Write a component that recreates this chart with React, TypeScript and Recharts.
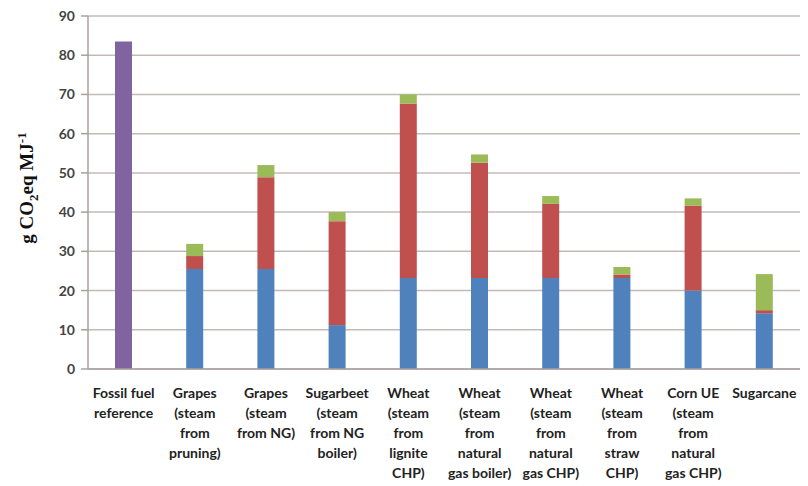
import React from 'react';
import { BarChart, Bar, XAxis, YAxis, CartesianGrid } from 'recharts';

const categories = [
  'Fossil fuel\nreference',
  'Grapes\n(steam\nfrom\npruning)',
  'Grapes\n(steam\nfrom NG)',
  'Sugarbeet\n(steam\nfrom NG\nboiler)',
  'Wheat\n(steam\nfrom\nlignite\nCHP)',
  'Wheat\n(steam\nfrom\nnatural\ngas boiler)',
  'Wheat\n(steam\nfrom\nnatural\ngas CHP)',
  'Wheat\n(steam\nfrom\nstraw\nCHP)',
  'Corn UE\n(steam\nfrom\nnatural\ngas CHP)',
  'Sugarcane',
];

const fossilValues = [83.5, 0, 0, 0, 0, 0, 0, 0, 0, 0];
const blueValues = [0, 25.5, 25.5, 11.2, 23.2, 23.2, 23.2, 23.2, 20.0, 14.2];
const redValues = [0, 3.3, 23.4, 26.5, 44.5, 29.4, 18.9, 0.9, 21.6, 0.8];
const greenValues = [0, 3.1, 3.1, 2.3, 2.3, 2.1, 2.0, 1.9, 1.9, 9.2];

const yTicks = [0, 10, 20, 30, 40, 50, 60, 70, 80, 90];

const data = categories.map((name, i) => ({
  name,
  fossil: fossilValues[i],
  blue: blueValues[i],
  red: redValues[i],
  green: greenValues[i],
}));

const XTick = (props: any) => {
  const { x, y, payload } = props;
  const lines = String(payload.value).split('\n');
  return (
    <g transform={`translate(${x},${y})`}>
      {lines.map((line, i) => (
        <text
          key={i}
          x={0}
          y={i * 20}
          dy={27}
          textAnchor="middle"
          fill="#222"
          fontFamily="Lato, 'Open Sans', sans-serif"
          fontWeight="bold"
          fontSize={14}
        >
          {line}
        </text>
      ))}
    </g>
  );
};

const YLabel = () => (
  <text
    transform="translate(33,188) rotate(-90)"
    textAnchor="middle"
    fontFamily="'Liberation Serif', 'DejaVu Serif', serif"
    fontWeight="bold"
    fontSize={19}
    fill="#111"
  >
    g CO
    <tspan fontSize={13} dy={5}>2</tspan>
    <tspan dy={-5}>eq MJ</tspan>
    <tspan fontSize={13} dy={-7}>-1</tspan>
  </text>
);

const App = () => {
  return (
    <div style={{ position: 'absolute', left: 0, top: 0, background: '#fff' }}>
      <BarChart
        width={808}
        height={486}
        data={data}
        margin={{ top: 16, right: 8, bottom: 0, left: 0 }}
        barSize={17}
      >
        <CartesianGrid vertical={false} stroke="#c4b9b9" strokeWidth={1.5} />
        <XAxis
          dataKey="name"
          interval={0}
          height={117}
          tickLine={false}
          tickSize={0}
          axisLine={{ stroke: '#a8a0a0', strokeWidth: 1.5 }}
          tick={<XTick />}
        />
        <YAxis
          width={88}
          domain={[0, 90]}
          ticks={yTicks}
          interval={0}
          tickSize={7}
          tickMargin={6}
          axisLine={{ stroke: '#a8a0a0', strokeWidth: 1.5 }}
          tickLine={{ stroke: '#a8a0a0', strokeWidth: 1.5 }}
          tick={{ fill: '#444', fontSize: 14, fontWeight: 'bold', fontFamily: "Lato, 'Open Sans', sans-serif" }}
          label={<YLabel />}
        />
        <Bar dataKey="blue" stackId="a" fill="#4f81bd" isAnimationActive={false} />
        <Bar dataKey="red" stackId="a" fill="#c0504d" isAnimationActive={false} />
        <Bar dataKey="green" stackId="a" fill="#9bbb59" isAnimationActive={false} />
        <Bar dataKey="fossil" stackId="a" fill="#8064a2" isAnimationActive={false} />
      </BarChart>
    </div>
  );
};

export default App;
